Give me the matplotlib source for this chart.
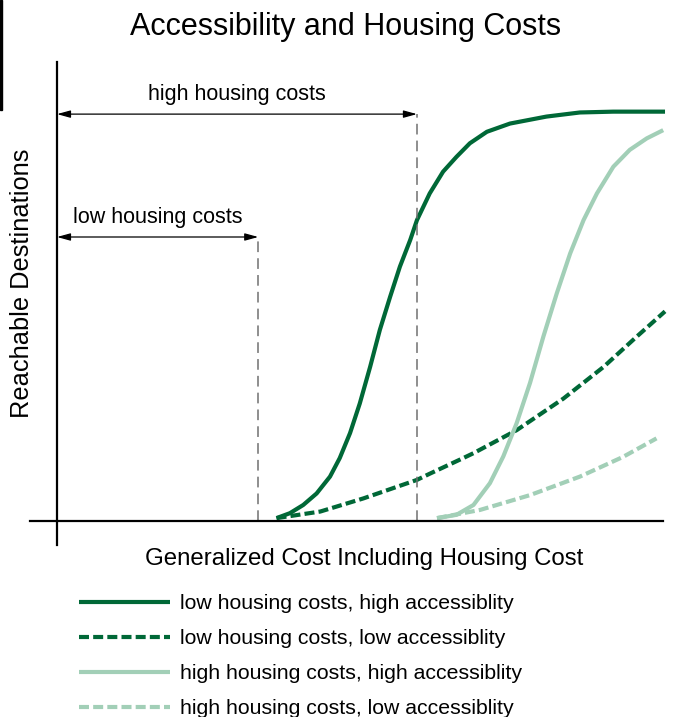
"""Accessibility and housing costs: reachable destinations vs generalized cost
"""

import matplotlib.pyplot as plt
from matplotlib.patches import Rectangle

plt.rcParams['font.family'] = ['Liberation Sans', 'DejaVu Sans']

# Curves (x: generalized cost 0-100, y: destinations 0-100)
low_high_x = [36.1, 38.3, 40.5, 42.7, 44.9, 46.5, 48.2, 49.8, 51.5, 53.1, 54.8, 56.4,
              58.1, 59.2, 61.3, 63.5, 65.7, 67.9, 70.7, 74.5, 80.5, 86.0, 91.5, 100.0]
low_high_y = [0.7, 1.9, 3.9, 6.7, 10.8, 15.3, 21.4, 28.6, 37.5, 46.5, 54.6, 61.9,
              68.4, 73.2, 79.7, 85.0, 88.6, 91.9, 94.7, 96.7, 98.4, 99.4, 99.6, 99.6]

low_low_x = [36.1, 43.3, 50.4, 59.2, 61.3, 66.8, 68.5, 75.6, 83.3, 89.9, 95.3, 100.0]
low_low_y = [0.7, 2.3, 5.5, 10.0, 11.5, 15.3, 16.5, 22.1, 29.8, 37.5, 44.8, 51.0]

high_high_x = [62.5, 65.7, 68.5, 71.2, 73.4, 75.6, 77.8, 80.0, 82.2, 84.4, 86.6, 88.8,
               91.5, 94.2, 97.0, 99.7]
high_high_y = [0.7, 1.5, 3.9, 9.2, 15.7, 23.8, 33.6, 44.9, 55.4, 65.1, 73.2, 79.7,
               86.2, 90.3, 93.1, 95.1]

high_low_x = [62.5, 69.6, 77.8, 86.0, 93.1, 98.6]
high_low_y = [0.7, 2.7, 6.3, 10.8, 15.6, 20.1]

# Housing-cost thresholds (cost reached, height of the marker)
low_cost_x, low_cost_y = 33.1, 69.1
high_cost_x, high_cost_y = 59.2, 99.0

labels = ['low housing costs, high accessiblity',
          'low housing costs, low accessiblity',
          'high housing costs, high accessiblity',
          'high housing costs, low accessiblity']

dark = '#006837'
light = '#a2cfb7'
dash = (0, (2.4, 1.0))

W, H = 694, 717
fig = plt.figure(figsize=(W / 100, H / 100), dpi=100)

# axes placed in pixel terms so the spines cross like the original
ax_l, ax_r, ax_t, ax_b = 30, 670, 62, 545
ax = fig.add_axes([ax_l / W, 1 - ax_b / H, (ax_r - ax_l) / W, (ax_b - ax_t) / H])
ax.set_xlim(-4.44, 100.82)
ax.set_ylim(-5.84, 111.68)
for side in ['top', 'right']:
    ax.spines[side].set_visible(False)
for side in ['left', 'bottom']:
    ax.spines[side].set_position(('data', 0))
    ax.spines[side].set_linewidth(1.6)
ax.spines['bottom'].set_bounds(-4.44, 99.6)
ax.set_xticks([])
ax.set_yticks([])
ax.patch.set_alpha(0)

lw = 3.0
ax.plot(low_high_x, low_high_y, color=dark, lw=lw, solid_capstyle='butt', label=labels[0])
ax.plot(low_low_x, low_low_y, color=dark, lw=lw, ls=dash, label=labels[1])
ax.plot(high_high_x, high_high_y, color=light, lw=lw, solid_capstyle='butt', label=labels[2])
ax.plot(high_low_x, high_low_y, color=light, lw=lw, ls=dash, label=labels[3])

# threshold markers
for tx, ty, txt in [(low_cost_x, low_cost_y, 'low housing costs'),
                    (high_cost_x, high_cost_y, 'high housing costs')]:
    ax.plot([tx, tx], [0, ty], color='#707070', lw=1.1, ls=(0, (7, 4)))
    ax.annotate('', xy=(tx, ty), xytext=(0, ty),
                arrowprops=dict(arrowstyle='<|-|>,head_length=0.8,head_width=0.22',
                                lw=0.9, color='k', shrinkA=0, shrinkB=0))
    ax.text(tx / 2, ty + 3.5, txt, ha='center', va='baseline', fontsize=15.5)

fig.text(346 / W, 1 - 35 / H, 'Accessibility and Housing Costs',
         ha='center', va='baseline', fontsize=22)
fig.text(364 / W, 1 - 565 / H, 'Generalized Cost Including Housing Cost',
         ha='center', va='baseline', fontsize=17.3)
fig.text(22 / W, 1 - 283 / H, 'Reachable Destinations',
         ha='center', va='center', rotation=90, fontsize=18.3)

# stray black bar at top-left edge of the original
fig.patches.append(Rectangle((0, 1 - 110 / H), 2 / W, 110 / H,
                             transform=fig.transFigure, color='k', zorder=5))

handles, hlabels = ax.get_legend_handles_labels()
fig.legend(handles, hlabels, loc='upper left',
           bbox_to_anchor=(79 / W, 1 - 594 / H), frameon=False,
           fontsize=15.3, handlelength=4.28, handletextpad=0.47,
           labelspacing=0.76, borderpad=0, borderaxespad=0)

fig.savefig('out.png', dpi=100, facecolor='white')
